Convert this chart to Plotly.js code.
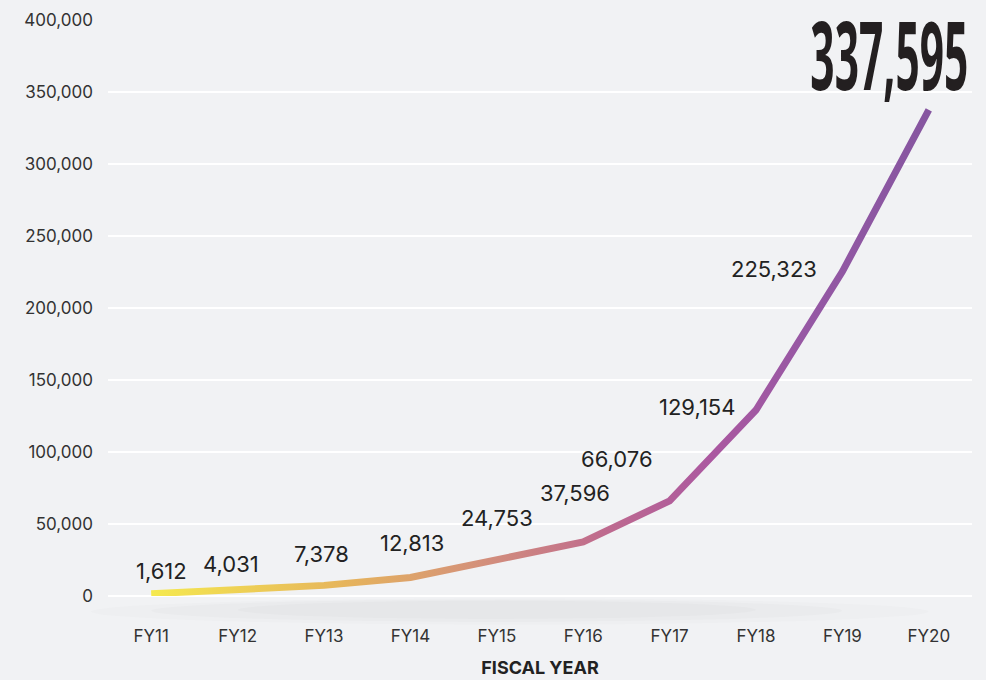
<!DOCTYPE html>
<html>
<head>
<meta charset="utf-8">
<script src="https://cdn.plot.ly/plotly-3.0.1.min.js"></script>
<style>
  html, body { margin: 0; padding: 0; background: #f1f2f4; }
  #chart { width: 986px; height: 680px; }
</style>
</head>
<body>
<div id="chart"></div>
<script>
const years = ['FY11', 'FY12', 'FY13', 'FY14', 'FY15', 'FY16', 'FY17', 'FY18', 'FY19', 'FY20'];
const totals = [1612, 4031, 7378, 12813, 24753, 37596, 66076, 129154, 225323, 337595];
const yTicks = [0, 50000, 100000, 150000, 200000, 250000, 300000, 350000, 400000];

// label offsets (px) relative to each point
const labelDx = [10, -7, -3, 2, 0, -8, -53, -59, -68];
const labelDy = [23, 26, 31, 35, 42, 49, 42, 3, 3];

const fmt = v => v.toLocaleString('en-US');
const mainFont = 'Inter, "Open Sans", sans-serif';

const trace = {
    x: years,
    y: totals,
    type: 'scatter',
    mode: 'lines',
    line: {color: '#b05a9e', width: 7},
    hoverinfo: 'skip'
};

const annotations = totals.slice(0, -1).map((v, i) => ({
    x: years[i],
    y: v,
    text: fmt(v),
    showarrow: false,
    xanchor: 'center',
    yanchor: 'middle',
    xshift: labelDx[i],
    yshift: labelDy[i],
    font: {family: mainFont, size: 22, color: '#222'}
}));

// headline value for the last year
annotations.push({
    x: years[years.length - 1],
    y: totals[totals.length - 1],
    text: '<b>' + fmt(totals[totals.length - 1]) + '</b>',
    showarrow: false,
    xanchor: 'center',
    yanchor: 'middle',
    xshift: -39,
    yshift: 56,
    font: {family: '"Open Sans", sans-serif', size: 40, color: '#231f20'}
});

const shadow = (x0, x1, y0, y1, a) => ({
    type: 'circle', xref: 'paper', yref: 'paper', x0: x0, x1: x1, y0: y0, y1: y1,
    fillcolor: 'rgba(0,0,0,' + a + ')', line: {width: 0}, layer: 'below'
});

const layout = {
    width: 986,
    height: 680,
    paper_bgcolor: '#f1f2f4',
    plot_bgcolor: '#f1f2f4',
    margin: {l: 108, r: 14, t: 20, b: 84},
    showlegend: false,
    xaxis: {
        type: 'category',
        range: [-0.5, 9.5],
        showgrid: false,
        zeroline: false,
        showline: false,
        ticks: '',
        ticklabelstandoff: 28,
        tickfont: {family: mainFont, size: 17, color: '#333'},
        title: {text: '<b>FISCAL YEAR</b>', standoff: 16, font: {family: mainFont, size: 18, color: '#222'}}
    },
    yaxis: {
        range: [0, 400000],
        tickvals: yTicks,
        ticktext: yTicks.map(fmt),
        showgrid: true,
        gridcolor: '#ffffff',
        gridwidth: 2,
        zeroline: true,
        zerolinecolor: '#ffffff',
        zerolinewidth: 2,
        ticks: '',
        ticklabelstandoff: 14,
        tickfont: {family: mainFont, size: 17, color: '#333'}
    },
    shapes: [
        shadow(-0.02, 0.95, -0.05, -0.004, 0.012),
        shadow(0.05, 0.85, -0.045, -0.006, 0.014),
        shadow(0.15, 0.75, -0.04, -0.008, 0.014)
    ],
    annotations: annotations
};

Plotly.newPlot('chart', [trace], layout, {displayModeBar: false, staticPlot: true}).then(gd => {
    // colour the line with a yellow-to-purple gradient
    const svg = gd.querySelector('svg.main-svg');
    const ns = 'http://www.w3.org/2000/svg';
    let defs = svg.querySelector('defs');
    if (!defs) { defs = document.createElementNS(ns, 'defs'); svg.insertBefore(defs, svg.firstChild); }
    const grad = document.createElementNS(ns, 'linearGradient');
    grad.setAttribute('id', 'lineGrad');
    grad.setAttribute('x1', '0'); grad.setAttribute('x2', '1');
    grad.setAttribute('y1', '0'); grad.setAttribute('y2', '0');
    const stops = [[0, '#f5e94f'], [0.25, '#e6b45c'], [0.42, '#d4917a'], [0.58, '#bf6b8e'], [0.72, '#ab58a0'], [0.85, '#9558a4'], [1, '#8656a0']];
    stops.forEach(([o, c]) => {
        const s = document.createElementNS(ns, 'stop');
        s.setAttribute('offset', o);
        s.setAttribute('stop-color', c);
        grad.appendChild(s);
    });
    defs.appendChild(grad);
    const path = gd.querySelector('.scatterlayer .js-line');
    if (path) path.style.stroke = 'url(#lineGrad)';

    // stretch the headline number into a tall condensed look
    const notes = gd.querySelectorAll('.annotation');
    const big = notes[notes.length - 1].querySelector('text.annotation-text');
    if (big) {
        const bb = big.getBBox();
        const sx = 158 / bb.width;
        const sy = 68 / (0.714 * 40);
        const cx = bb.x + bb.width / 2;
        const cy = bb.y + bb.height / 2;
        big.setAttribute('transform', 'translate(' + cx + ',' + cy + ') scale(' + sx + ',' + sy + ') translate(' + (-cx) + ',' + (-cy) + ')');
    }
});
</script>
</body>
</html>
